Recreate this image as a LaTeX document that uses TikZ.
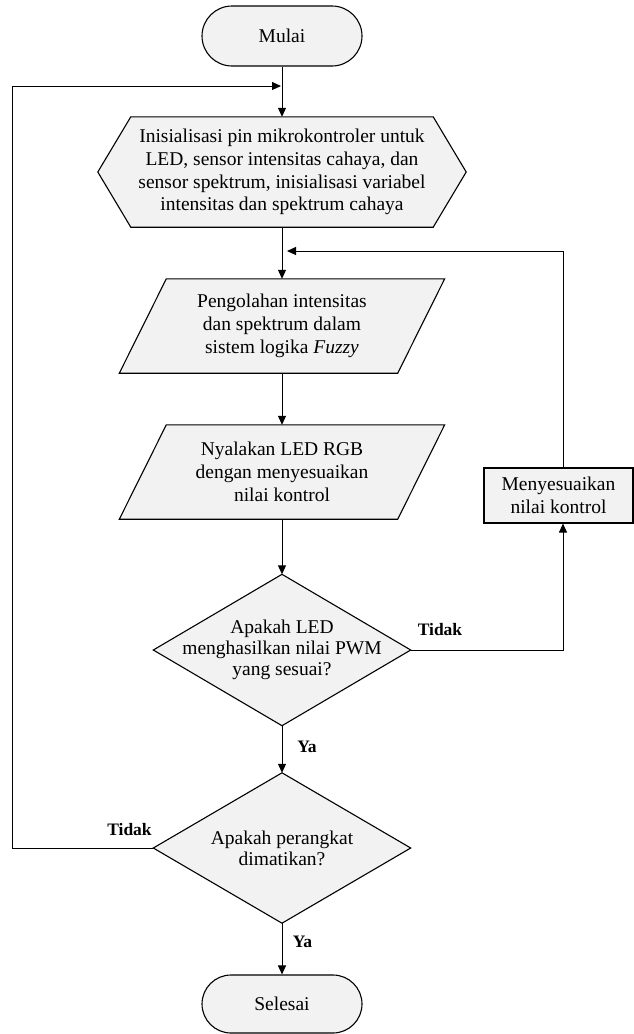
\documentclass[tikz,border=0pt]{standalone}
\usepackage{fontspec}
\setmainfont{Liberation Serif}
\usetikzlibrary{shapes.misc,arrows.meta,backgrounds,calc}
\definecolor{boxfill}{HTML}{F2F2F2}
\newcommand{\txtsz}{\fontsize{19.5}{22.8}\selectfont}
\newcommand{\dtxtsz}{\fontsize{19.5}{21}\selectfont}
\newcommand{\lbltxtsz}{\fontsize{17.5}{20}\selectfont\bfseries}
\tikzset{
  conn/.style={line width=1pt, draw=black},
  arr/.style={conn, -{Triangle[length=9pt,width=8pt]}},
  outl/.style={draw=black, line width=1.1pt, fill=boxfill, line join=miter},
  term/.style={rounded rectangle, outl, minimum width=160pt, minimum height=60pt, inner sep=0pt, font=\txtsz},
  frame/.style={rectangle, inner sep=0pt, align=center, font=\txtsz},
  procbox/.style={rectangle, outl, inner sep=0pt, align=center, font=\txtsz},
  lbl/.style={font=\lbltxtsz, anchor=base, inner sep=0pt},
}
\begin{document}
\begin{tikzpicture}[x=1pt,y=-1pt]
\useasboundingbox (0,0) rectangle (634,1034);
% nodes
\node[term] (mulai) at (282,36) {Mulai};
\node[frame, minimum width=368pt, minimum height=110pt] (init) at (282,172)
  {Inisialisasi pin mikrokontroler untuk\\LED, sensor intensitas cahaya, dan\\sensor spektrum, inisialisasi variabel\\intensitas dan spektrum cahaya};
\node[frame, minimum width=325pt, minimum height=94pt] (p1) at (282,326)
  {Pengolahan intensitas\\dan spektrum dalam\\sistem logika \textit{Fuzzy}};
\node[frame, minimum width=325pt, minimum height=94pt] (p2) at (282,472)
  {Nyalakan LED RGB\\dengan menyesuaikan\\nilai kontrol};
\node[procbox, minimum width=149pt, minimum height=55pt] (adj) at (558.5,495.5)
  {Menyesuaikan\\nilai kontrol};
\node[frame, font=\dtxtsz, minimum width=257pt, minimum height=151pt] (d1) at (282,650)
  {Apakah LED\\menghasilkan nilai PWM\\yang sesuai?};
\node[frame, font=\dtxtsz, minimum width=257pt, minimum height=150pt] (d2) at (282,848)
  {Apakah perangkat\\dimatikan?};
\node[term, minimum height=58pt] (selesai) at (282,1004) {Selesai};
% outlines behind text
\begin{scope}[on background layer]
\draw[outl] (init.west) -- ($(init.north west)+(33,0)$) -- ($(init.north east)+(-33,0)$)
  -- (init.east) -- ($(init.south east)+(-33,0)$) -- ($(init.south west)+(33,0)$) -- cycle;
\draw[outl] (p1.south west) -- ($(p1.north west)+(47,0)$) -- (p1.north east)
  -- ($(p1.south east)+(-47,0)$) -- cycle;
\draw[outl] (p2.south west) -- ($(p2.north west)+(47,0)$) -- (p2.north east)
  -- ($(p2.south east)+(-47,0)$) -- cycle;
\draw[outl] (d1.north) -- (d1.east) -- (d1.south) -- (d1.west) -- cycle;
\draw[outl] (d2.north) -- (d2.east) -- (d2.south) -- (d2.west) -- cycle;
\end{scope}
% helper coordinates
\coordinate (lx) at (12,848);
\coordinate (j1) at (281,86);
\coordinate (j2) at (287,251);
\coordinate (bx) at (563,650);
% connectors
\draw[arr] (mulai.south) -- (init.north);
\draw[arr] (d2.west) -- (lx) -- (lx |- j1) -- (j1);
\draw[arr] (init.south) -- (p1.north);
\draw[arr] (bx |- adj.north) -- (bx |- j2) -- (j2);
\draw[arr] (p1.south) -- (p2.north);
\draw[arr] (p2.south) -- (d1.north);
\draw[arr] (d1.east) -- (bx) -- (bx |- adj.south);
\draw[arr] (d1.south) -- (d2.north);
\draw[arr] (d2.south) -- (selesai.north);
% labels
\node[lbl] (t1) at (440,635) {Tidak};
\node[lbl] (t2) at (129.5,835) {Tidak};
\node[lbl] (y1) at (307,752) {Ya};
\node[lbl] (y2) at (302.5,947) {Ya};
\end{tikzpicture}
\end{document}
